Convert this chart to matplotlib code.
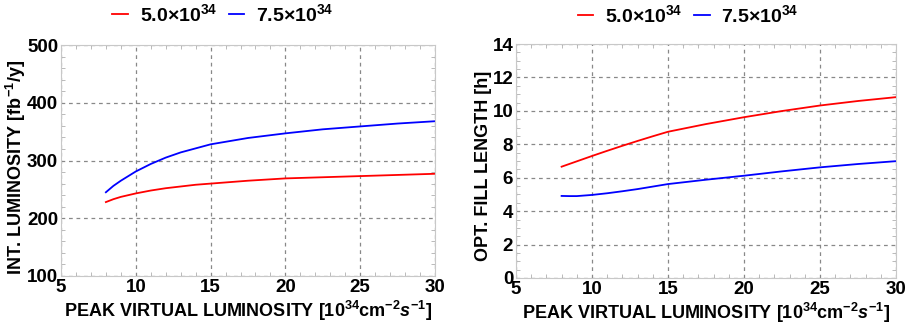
import numpy as np
import matplotlib.pyplot as plt
from matplotlib.ticker import MultipleLocator

plt.rcParams['font.family'] = ['Liberation Sans', 'DejaVu Sans']
plt.rcParams['font.weight'] = 'bold'
plt.rcParams['mathtext.fontset'] = 'custom'
plt.rcParams['mathtext.rm'] = 'Liberation Sans:bold'
plt.rcParams['mathtext.bf'] = 'Liberation Sans:bold'
plt.rcParams['mathtext.it'] = 'Liberation Sans:bold:italic'
plt.rcParams['mathtext.default'] = 'bf'

# peak virtual luminosity [1e34 cm^-2 s^-1]
lumi = [8, 8.5, 9, 10, 11, 12, 13, 14, 15, 17.5, 20, 22.5, 25, 27.5, 30]

# integrated luminosity [fb^-1/y]
int_lumi_50 = [228, 233, 237, 243, 248, 252, 255, 258, 260, 265, 269, 271, 273, 275, 277]
int_lumi_75 = [245, 256, 265, 281, 294, 305, 314, 321, 328, 339, 347, 354, 359, 364, 368]

# optimal fill length [h]
fill_50 = [6.66, 6.82, 6.98, 7.30, 7.61, 7.91, 8.20, 8.48, 8.75, 9.21, 9.62, 9.99, 10.32, 10.59, 10.82]
fill_75 = [4.91, 4.90, 4.90, 4.97, 5.07, 5.19, 5.32, 5.47, 5.62, 5.88, 6.12, 6.38, 6.62, 6.82, 6.99]

labels = ['5.0×10$^{34}$', '7.5×10$^{34}$']
colors = ['#ff0000', '#0000ff']

fig = plt.figure(figsize=(9.12, 3.25), dpi=100)
ax1 = fig.add_axes([61/912, 1-276/325, 374/912, 231/325])
ax2 = fig.add_axes([516/912, 1-278/325, 380/912, 234/325])

ax1.plot(lumi, int_lumi_50, color=colors[0], lw=1.3, label=labels[0])
ax1.plot(lumi, int_lumi_75, color=colors[1], lw=1.3, label=labels[1])
ax2.plot(lumi, fill_50, color=colors[0], lw=1.3, label=labels[0])
ax2.plot(lumi, fill_75, color=colors[1], lw=1.3, label=labels[1])

ax1.set_ylim(100, 500)
ax1.yaxis.set_major_locator(MultipleLocator(100))
ax1.yaxis.set_minor_locator(MultipleLocator(20))
ax1.set_ylabel('INT. LUMINOSITY [fb$^{-1}$/y]', fontsize=13, fontweight='bold')

ax2.set_ylim(0, 14)
ax2.yaxis.set_major_locator(MultipleLocator(2))
ax2.yaxis.set_minor_locator(MultipleLocator(0.5))
ax2.set_ylabel('OPT. FILL LENGTH [h]', fontsize=13, fontweight='bold')

for ax, lx, ly in ((ax1, 0.433, 1.135), (ax2, 0.453, 1.125)):
    ax.set_xlim(5, 30)
    ax.xaxis.set_major_locator(MultipleLocator(5))
    ax.xaxis.set_minor_locator(MultipleLocator(1))
    ax.set_xlabel('PEAK VIRTUAL LUMINOSITY [10$^{34}$cm$^{-2}$$\\mathit{s}^{-1}$]',
                  fontsize=13, fontweight='bold', labelpad=2)
    ax.grid(True, which='major', ls=(0, (3, 3)), color='#888888', lw=0.9)
    for s in ax.spines.values():
        s.set_color('#c8c8c8')
    ax.tick_params(which='both', direction='in', top=True, right=True,
                   color='#b0b0b0', labelsize=13.5, pad=2)
    ax.tick_params(which='major', length=0)
    ax.tick_params(which='minor', length=3)
    for t in ax.get_xticklabels() + ax.get_yticklabels():
        t.set_fontweight('bold')
    ax.legend(loc='center', bbox_to_anchor=(lx, ly), ncol=2, frameon=False,
              handlelength=0.8, handletextpad=0.6, columnspacing=0.6,
              borderpad=0.2, prop={'size': 14, 'weight': 'bold'})

ax1.yaxis.set_label_coords(-0.088, 0.47)
ax2.yaxis.set_label_coords(-0.062, 0.48)

fig.savefig('out.png', dpi=100)
